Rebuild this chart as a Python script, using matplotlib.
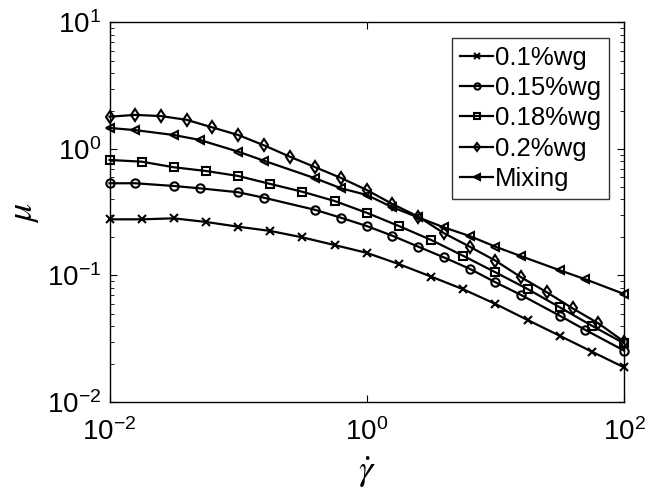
import numpy as np
import matplotlib.pyplot as plt

plt.rcParams['font.family'] = ['Liberation Sans', 'DejaVu Sans']
plt.rcParams['mathtext.fontset'] = 'stix'

# log10 of shear rate for each series
lx_quarter = np.arange(-2, 2.01, 0.25)
lx_fifth = np.arange(-2, 2.01, 0.2)
lx_mixed = [-2, -1.8, -1.5, -1.3, -1.0, -0.8, -0.4, -0.2, 0.0, 0.2, 0.4, 0.6, 0.8,
            1.0, 1.2, 1.5, 1.7, 2.0]

mu_010 = [0.278, 0.278, 0.283, 0.265, 0.243, 0.225, 0.200, 0.174, 0.151, 0.123,
          0.098, 0.0778, 0.0596, 0.0445, 0.0334, 0.0250, 0.0188]
mu_015 = [0.536, 0.536, 0.510, 0.489, 0.455, 0.412, 0.330, 0.286, 0.246, 0.206,
          0.169, 0.139, 0.113, 0.0884, 0.0701, 0.0481, 0.0371, 0.0255]
mu_018 = [0.819, 0.794, 0.717, 0.670, 0.612, 0.529, 0.459, 0.388, 0.313, 0.246,
          0.191, 0.143, 0.106, 0.0782, 0.0561, 0.0401, 0.0291]
mu_020 = [1.80, 1.86, 1.82, 1.70, 1.48, 1.29, 1.07, 0.871, 0.717, 0.590, 0.474,
          0.367, 0.292, 0.216, 0.169, 0.131, 0.0968, 0.0737, 0.0550, 0.0419, 0.0300]
mu_mix = [1.466, 1.41, 1.29, 1.18, 0.953, 0.808, 0.586, 0.489, 0.433, 0.346, 0.288,
          0.240, 0.205, 0.169, 0.142, 0.110, 0.0933, 0.0714]

series = [
    (lx_quarter, mu_010, 'x', '0.1%wg'),
    (lx_mixed, mu_015, 'o', '0.15%wg'),
    (lx_quarter, mu_018, 's', '0.18%wg'),
    (lx_fifth, mu_020, 'd', '0.2%wg'),
    (lx_mixed, mu_mix, '<', 'Mixing'),
]

fig = plt.figure(figsize=(6.48, 5.03), dpi=100)
ax = fig.add_axes([0.169, 0.2008, 0.794, 0.7545])

for lx, mu, mk, lab in series:
    ax.plot(10 ** np.array(lx), mu, color='k', lw=1.6, marker=mk, ms=6,
            mfc='none', mec='k', mew=1.5, label=lab, clip_on=False)

ax.set_xscale('log')
ax.set_yscale('log')
ax.set_xlim(1e-2, 1e2)
ax.set_ylim(1e-2, 1e1)
ax.set_xticks([1e-2, 1e0, 1e2])
ax.xaxis.set_minor_locator(plt.NullLocator())
ax.tick_params(which='both', direction='in', top=True, right=True, labelsize=20)
ax.tick_params(which='major', length=5)
ax.tick_params(which='minor', length=3)
ax.tick_params(axis='x', which='major', pad=12)
ax.tick_params(axis='y', which='major', pad=6)
for s in ax.spines.values():
    s.set_linewidth(1.0)

ax.set_xlabel(r'$\dot{\gamma}$', fontsize=26, labelpad=6)
ax.set_ylabel(r'$\mu$', fontsize=26, labelpad=4)

leg = ax.legend(loc='upper right', fontsize=18.5, frameon=True, fancybox=False,
                edgecolor='k', handlelength=1.3, handletextpad=0.05,
                borderpad=0.3, labelspacing=0.25, markerscale=0.75,
                borderaxespad=0.6)
leg.get_frame().set_linewidth(1.0)

fig.savefig('out.png', dpi=100)
